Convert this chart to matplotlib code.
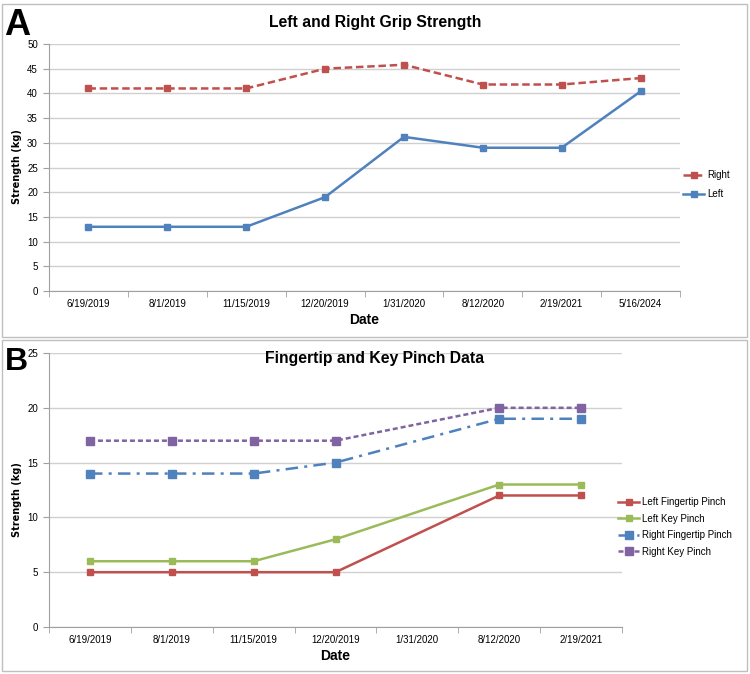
import numpy as np
import matplotlib.pyplot as plt
from matplotlib.patches import Rectangle

# Panel A data
dates_a = ['6/19/2019', '8/1/2019', '11/15/2019', '12/20/2019', '1/31/2020',
           '8/12/2020', '2/19/2021', '5/16/2024']
right_grip = [41, 41, 41, 45, 45.8, 41.8, 41.8, 43.1]
left_grip = [13, 13, 13, 19, 31.2, 29, 29, 40.4]

# Panel B data (no measurement on 1/31/2020)
dates_b = ['6/19/2019', '8/1/2019', '11/15/2019', '12/20/2019', '1/31/2020',
           '8/12/2020', '2/19/2021']
left_tip = [5, 5, 5, 5, np.nan, 12, 12]
left_key = [6, 6, 6, 8, np.nan, 13, 13]
right_tip = [14, 14, 14, 15, np.nan, 19, 19]
right_key = [17, 17, 17, 17, np.nan, 20, 20]

RED, BLUE, GREEN, PURPLE = '#C0504D', '#4F81BD', '#9BBB59', '#8064A2'
SANS = ['Liberation Sans', 'DejaVu Sans']

W, H = 750, 674
fig = plt.figure(figsize=(W / 100, H / 100), dpi=100)


def px_axes(x0, y0, x1, y1):
    return fig.add_axes([x0 / W, 1 - y1 / H, (x1 - x0) / W, (y1 - y0) / H])


def style(ax, labels, ymax, step, ylab_y):
    n = len(labels)
    ax.set_xlim(-0.5, n - 0.5)
    ax.set_ylim(0, ymax)
    ax.set_yticks(np.arange(0, ymax + 1, step))
    ax.set_xticks(range(n))
    ax.set_xticklabels(labels, fontsize=7, family=SANS)
    ax.set_xticks(np.arange(-0.5, n, 1), minor=True)
    ax.tick_params(axis='x', which='major', length=0, pad=6)
    ax.tick_params(axis='x', which='minor', length=4, color='#A0A0A0')
    ax.tick_params(axis='y', length=4, color='#A0A0A0', labelsize=7, pad=4)
    for t in ax.get_yticklabels():
        t.set_family(SANS)
    ax.grid(axis='y', color='#D0D0D0', lw=1)
    ax.set_axisbelow(True)
    for s in ['top', 'right']:
        ax.spines[s].set_visible(False)
    for s in ['left', 'bottom']:
        ax.spines[s].set_color('#A0A0A0')
    ax.set_xlabel('Date', fontsize=10, fontweight='bold', family=SANS, labelpad=3)
    ax.set_ylabel('Strength (kg)', fontsize=7, fontweight='bold')
    ax.yaxis.set_label_coords(22 / W, 1 - ylab_y / H, transform=fig.transFigure)


def series(ax, vals, ms=4, **kw):
    vals = np.array(vals, dtype=float)
    idx = np.where(~np.isnan(vals))[0]
    ax.plot(idx, vals[idx], marker='s', ms=ms, lw=1.8, **kw)


# panel borders
for y0, y1 in [(4, 337), (340, 671)]:
    fig.patches.append(Rectangle((2 / W, 1 - y1 / H), 745 / W, (y1 - y0) / H,
                                 transform=fig.transFigure, fill=False,
                                 ec='#BFBFBF', lw=1))

leg_kw = dict(frameon=False, prop={'family': SANS, 'size': 7},
              handlelength=2.2, handletextpad=0.3, borderpad=0,
              borderaxespad=0, bbox_transform=fig.transFigure)

# Panel A
axa = px_axes(49, 44, 680, 291)
series(axa, right_grip, color=RED, ls=(0, (3, 1.5)), label='Right')
series(axa, left_grip, color=BLUE, label='Left')
style(axa, dates_a, 50, 5, 167)
axa.legend(loc='upper left', bbox_to_anchor=(683 / W, 1 - 170 / H),
           labelspacing=0.95, **leg_kw)
fig.text(375 / W, 1 - 22 / H, 'Left and Right Grip Strength', ha='center',
         va='center', fontsize=11.3, fontweight='bold', family=SANS)
fig.text(4 / W, 1 - 35 / H, 'A', ha='left', va='baseline', fontsize=26,
         fontweight='bold', family=SANS)

# Panel B
axb = px_axes(49, 353, 622, 627)
series(axb, left_tip, color=RED, label='Left Fingertip Pinch')
series(axb, left_key, color=GREEN, label='Left Key Pinch')
series(axb, right_tip, color=BLUE, ls=(0, (5, 2.5, 1.2, 2.5)), ms=5.5,
       label='Right Fingertip Pinch')
series(axb, right_key, color=PURPLE, ls=(0, (2, 1.2)), ms=5.5,
       label='Right Key Pinch')
style(axb, dates_b, 25, 5, 500)
axb.legend(loc='upper left', bbox_to_anchor=(618 / W, 1 - 497 / H),
           labelspacing=0.68, **leg_kw)
fig.text(375 / W, 1 - 359 / H, 'Fingertip and Key Pinch Data', ha='center',
         va='center', fontsize=11.3, fontweight='bold', family=SANS)
fig.text(5 / W, 1 - 370 / H, 'B', ha='left', va='baseline', fontsize=23,
         fontweight='bold', family=SANS)

fig.savefig('out.png', dpi=100)
